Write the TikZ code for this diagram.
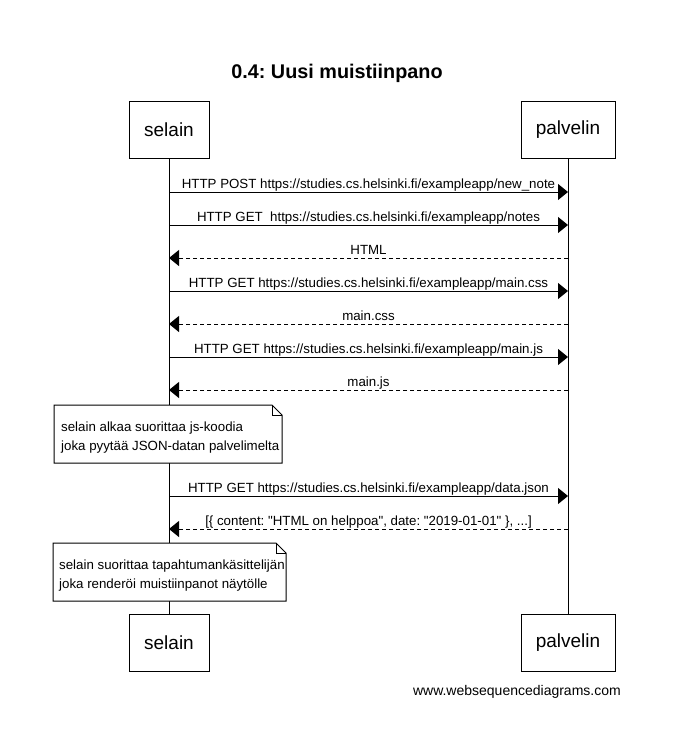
\documentclass[tikz,border=0pt]{standalone}
\usepackage{fontspec}
\setmainfont{Liberation Sans}
\usetikzlibrary{arrows.meta}
\frenchspacing
\begin{document}
\begin{tikzpicture}[x=1pt,y=-1pt,
  actor/.style={draw,line width=1pt,fill=white,minimum height=57pt,inner sep=0pt,
                font=\fontsize{19}{22}\selectfont},
  lifeline/.style={line width=1pt},
  msg/.style={line width=1pt,-{Triangle[length=10pt,width=16pt]}},
  reply/.style={msg,dash pattern=on 4pt off 3pt},
  lbl/.style={font=\fontsize{13.3}{15}\selectfont,anchor=base,inner sep=0pt},
  notebox/.style={draw,line width=1pt,fill=white},
  notetext/.style={font=\fontsize{13.3}{19}\selectfont,align=left,anchor=base west,inner sep=0pt},
]
\useasboundingbox (0,0) rectangle (686,752);

% title
\node[font=\bfseries\fontsize{19.8}{22}\selectfont,anchor=base] (title) at (337,78) {0.4: Uusi muistiinpano};

% participants
\node[actor,minimum width=80pt] (selainTop) at (169,129.5) {selain};
\node[actor,minimum width=94pt] (palvelinTop) at (568,129.5) {palvelin};
\node[actor,minimum width=80pt] (selainBot) at (169,642.5) {selain};
\node[actor,minimum width=94pt] (palvelinBot) at (568,642.5) {palvelin};

% lifelines
\draw[lifeline] (selainTop.south) -- (selainBot.north);
\draw[lifeline] (palvelinTop.south) -- (palvelinBot.north);

% message anchor points on the lifelines
\foreach \n/\y in {1/192,2/225,3/258,4/291,5/324,6/357,7/390,8/496,9/529}{
  \coordinate (s\n) at (169,\y);
  \coordinate (p\n) at (568,\y);
}

% messages
\draw[msg] (s1) -- (p1) node[lbl,pos=0.5,yshift=4pt] (m1) {HTTP POST https://studies.cs.helsinki.fi/exampleapp/new\_note};
\draw[msg] (s2) -- (p2) node[lbl,pos=0.5,yshift=4pt] (m2) {HTTP GET\ \ https://studies.cs.helsinki.fi/exampleapp/notes};
\draw[reply] (p3) -- (s3) node[lbl,pos=0.5,yshift=4pt] (m3) {HTML};
\draw[msg] (s4) -- (p4) node[lbl,pos=0.5,yshift=4pt] (m4) {HTTP GET https://studies.cs.helsinki.fi/exampleapp/main.css};
\draw[reply] (p5) -- (s5) node[lbl,pos=0.5,yshift=4pt] (m5) {main.css};
\draw[msg] (s6) -- (p6) node[lbl,pos=0.5,yshift=4pt] (m6) {HTTP GET https://studies.cs.helsinki.fi/exampleapp/main.js};
\draw[reply] (p7) -- (s7) node[lbl,pos=0.5,yshift=4pt] (m7) {main.js};
\draw[msg] (s8) -- (p8) node[lbl,pos=0.5,yshift=4pt] (m8) {HTTP GET https://studies.cs.helsinki.fi/exampleapp/data.json};
\draw[reply] (p9) -- (s9) node[lbl,pos=0.5,yshift=4pt] (m9) {[\{ content: \textquotedbl HTML on helppoa\textquotedbl, date: \textquotedbl 2019-01-01\textquotedbl\ \}, ...]};

% note 1 (folded corner at top right)
\draw[notebox] (54,405) -- (272,405) -- (282,415) -- (282,463) -- (54,463) -- cycle;
\draw[line width=1pt] (272,405) -- (272,415) -- (282,415);
\node[notetext] (note1) at (61,450) {selain alkaa suorittaa js-koodia\\joka pyytää JSON-datan palvelimelta};

% note 2 (folded corner at top right)
\draw[notebox] (53,543) -- (276,543) -- (286,553) -- (286,601) -- (53,601) -- cycle;
\draw[line width=1pt] (276,543) -- (276,553) -- (286,553);
\node[notetext] (note2) at (59,588) {selain suorittaa tapahtumankäsittelijän\\joka renderöi muistiinpanot näytölle};

% footer
\node[font=\fontsize{14}{16}\selectfont,anchor=base east,inner sep=0pt] (footer) at (621,695) {www.websequencediagrams.com};
\end{tikzpicture}
\end{document}
